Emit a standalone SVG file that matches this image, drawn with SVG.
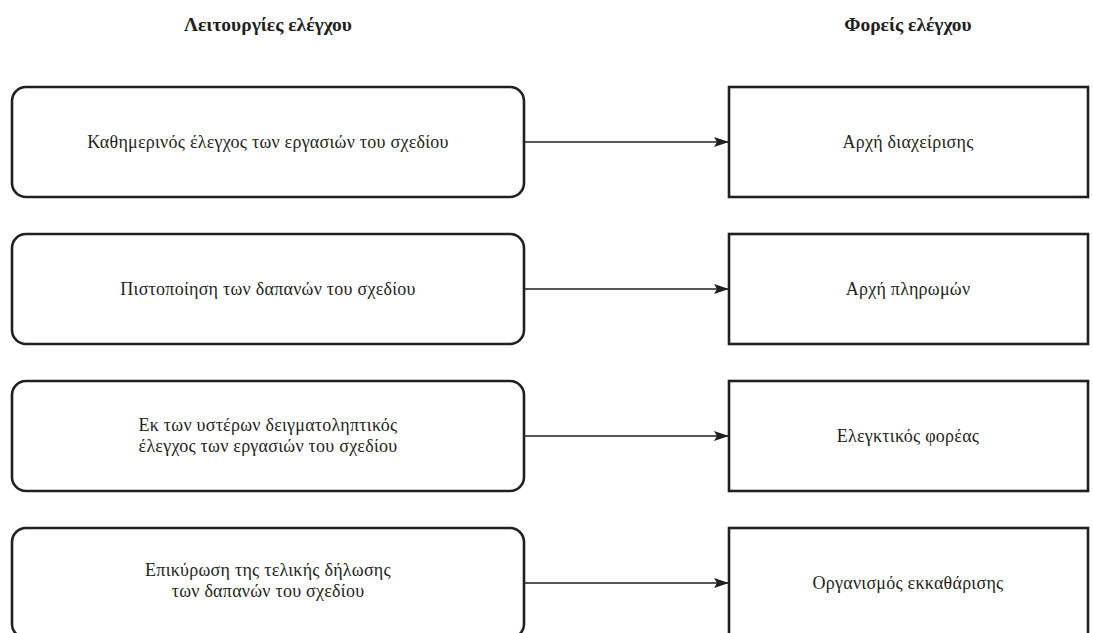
<svg xmlns="http://www.w3.org/2000/svg" width="1093" height="633" viewBox="0 0 1093 633">
<style>
.bg{fill:#ffffff}
.rbox{fill:#ffffff;stroke:#231f20;stroke-width:2.6}
.sbox{fill:#ffffff;stroke:#231f20;stroke-width:2.6}
.t{font-family:"Liberation Serif","DejaVu Serif",serif;font-size:18px;letter-spacing:0.25px;fill:#231f20;text-anchor:middle}
.h{font-family:"Liberation Serif","DejaVu Serif",serif;font-size:19.5px;font-weight:bold;fill:#231f20;text-anchor:middle}
.c{stroke:#231f20;stroke-width:1.3;fill:none}
</style>
<defs>
<marker id="ah" markerWidth="16" markerHeight="10" refX="15" refY="5" orient="auto" markerUnits="userSpaceOnUse">
<path d="M0,0 L15,5 L0,10 L3,5 Z" fill="#231f20"/>
</marker>
</defs>
<rect class="bg" x="0" y="0" width="1093" height="633"/>
<g id="headers">
<text class="h" x="268" y="31">Λειτουργίες ελέγχου</text>
<text class="h" x="908" y="31">Φορείς ελέγχου</text>
</g>
<g id="connectors">
<line class="c" x1="524" y1="142" x2="729" y2="142" marker-end="url(#ah)"/>
<line class="c" x1="524" y1="289" x2="729" y2="289" marker-end="url(#ah)"/>
<line class="c" x1="524" y1="436" x2="729" y2="436" marker-end="url(#ah)"/>
<line class="c" x1="524" y1="583" x2="729" y2="583" marker-end="url(#ah)"/>
</g>
<g id="f1">
<rect class="rbox" x="12" y="87" width="512" height="110" rx="14"/>
<text class="t" x="268" y="148">Καθημερινός έλεγχος των εργασιών του σχεδίου</text>
</g>
<g id="f2">
<rect class="rbox" x="12" y="234" width="512" height="110" rx="14"/>
<text class="t" x="268" y="295">Πιστοποίηση των δαπανών του σχεδίου</text>
</g>
<g id="f3">
<rect class="rbox" x="12" y="381" width="512" height="110" rx="14"/>
<text class="t" x="268" y="431">Εκ των υστέρων δειγματοληπτικός</text>
<text class="t" x="268" y="452">έλεγχος των εργασιών του σχεδίου</text>
</g>
<g id="f4">
<rect class="rbox" x="12" y="528" width="512" height="110" rx="14"/>
<text class="t" x="268" y="576">Επικύρωση της τελικής δήλωσης</text>
<text class="t" x="268" y="597">των δαπανών του σχεδίου</text>
</g>
<g id="b1">
<rect class="sbox" x="729" y="87" width="359" height="110"/>
<text class="t" x="908" y="148">Αρχή διαχείρισης</text>
</g>
<g id="b2">
<rect class="sbox" x="729" y="234" width="359" height="110"/>
<text class="t" x="908" y="295">Αρχή πληρωμών</text>
</g>
<g id="b3">
<rect class="sbox" x="729" y="381" width="359" height="110"/>
<text class="t" x="908" y="442">Ελεγκτικός φορέας</text>
</g>
<g id="b4">
<rect class="sbox" x="729" y="528" width="359" height="110"/>
<text class="t" x="908" y="589">Οργανισμός εκκαθάρισης</text>
</g>
</svg>
